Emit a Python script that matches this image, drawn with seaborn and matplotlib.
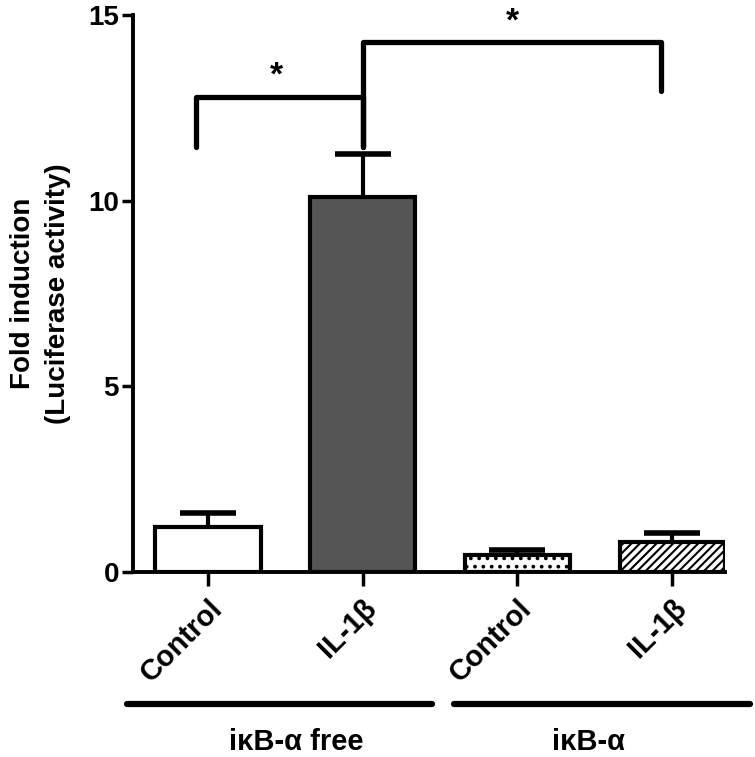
import pandas as pd
import seaborn as sns
import matplotlib.pyplot as plt

conditions = ['free_ctrl', 'free_il1b', 'ikb_ctrl', 'ikb_il1b']
tick_labels = ['Control', 'IL-1β', 'Control', 'IL-1β']
fold = [1.2, 10.1, 0.45, 0.8]
sem = [0.4, 1.15, 0.15, 0.25]
group_names = ['iκB-α free', 'iκB-α']

sns.set_style('ticks')
plt.rcParams['font.family'] = ['Liberation Sans', 'DejaVu Sans']
plt.rcParams['font.weight'] = 'bold'
plt.rcParams['hatch.linewidth'] = 1.5
for k in ['text.color', 'axes.labelcolor', 'xtick.color', 'ytick.color', 'axes.edgecolor']:
    plt.rcParams[k] = 'black'

df = pd.DataFrame({'cond': conditions, 'fold': fold})

fig = plt.figure(figsize=(7.55, 7.57), dpi=100)
ax = fig.add_axes([0.176, 0.2444, 0.784, 0.7358])

ax = sns.barplot(data=df, x='cond', y='fold', ax=ax, width=0.68,
                 palette=['white', '#555555', 'white', 'white'],
                 hue='cond', legend=False, edgecolor='black', linewidth=3,
                 zorder=3)
hatches = [None, None, '..', '////']
for p, h in zip(ax.patches, hatches):
    if h:
        p.set_hatch(h)

# upper error bars only: hide the lower caps
eb = ax.errorbar(range(4), fold, yerr=[[0] * 4, sem], fmt='none', ecolor='black',
                 elinewidth=3, capsize=20, capthick=4, zorder=1)
eb[1][0].set_visible(False)

ax.set_xlim(-0.485, 3.34)
ax.set_ylim(0, 15)
ax.set_yticks([0, 5, 10, 15])
ax.set_xticks(range(4))
ax.set_xticklabels(tick_labels, rotation=45, ha='right', rotation_mode='anchor',
                   fontsize=21, fontweight='bold')
ax.tick_params(axis='y', labelsize=20, width=2.5, length=8, pad=2)
ax.tick_params(axis='x', width=2.5, length=10, pad=6)
for t in ax.get_yticklabels():
    t.set_fontweight('bold')
ax.set_xlabel('')
ax.set_ylabel('Fold induction\n(Luciferase activity)', fontsize=20, fontweight='bold',
              labelpad=12, linespacing=1.45)
sns.despine(ax=ax)
for s in ['left', 'bottom']:
    ax.spines[s].set_linewidth(2.8)

# significance brackets
ax.plot([-0.08, -0.08, 1.0, 1.0], [11.45, 12.8, 12.8, 11.45], color='black', lw=3.8, clip_on=False)
ax.text(0.44, 12.95, '*', ha='center', va='bottom', fontsize=24, fontweight='bold')
ax.plot([1.0, 1.0, 2.93, 2.93], [11.45, 14.28, 14.28, 12.95], color='black', lw=3.8, clip_on=False)
ax.text(1.97, 14.4, '*', ha='center', va='bottom', fontsize=24, fontweight='bold')

# group lines and labels below the axis
tr = ax.get_xaxis_transform()
ax.plot([-0.52, 1.45], [-0.237, -0.237], transform=tr, color='black', lw=4.5,
        solid_capstyle='round', clip_on=False)
ax.plot([1.59, 3.50], [-0.237, -0.237], transform=tr, color='black', lw=4.5,
        solid_capstyle='round', clip_on=False)
ax.text(0.57, -0.305, group_names[0], transform=tr, ha='center', va='center',
        fontsize=21, fontweight='bold')
ax.text(2.46, -0.305, group_names[1], transform=tr, ha='center', va='center',
        fontsize=21, fontweight='bold')

fig.savefig('out.png', dpi=100)
